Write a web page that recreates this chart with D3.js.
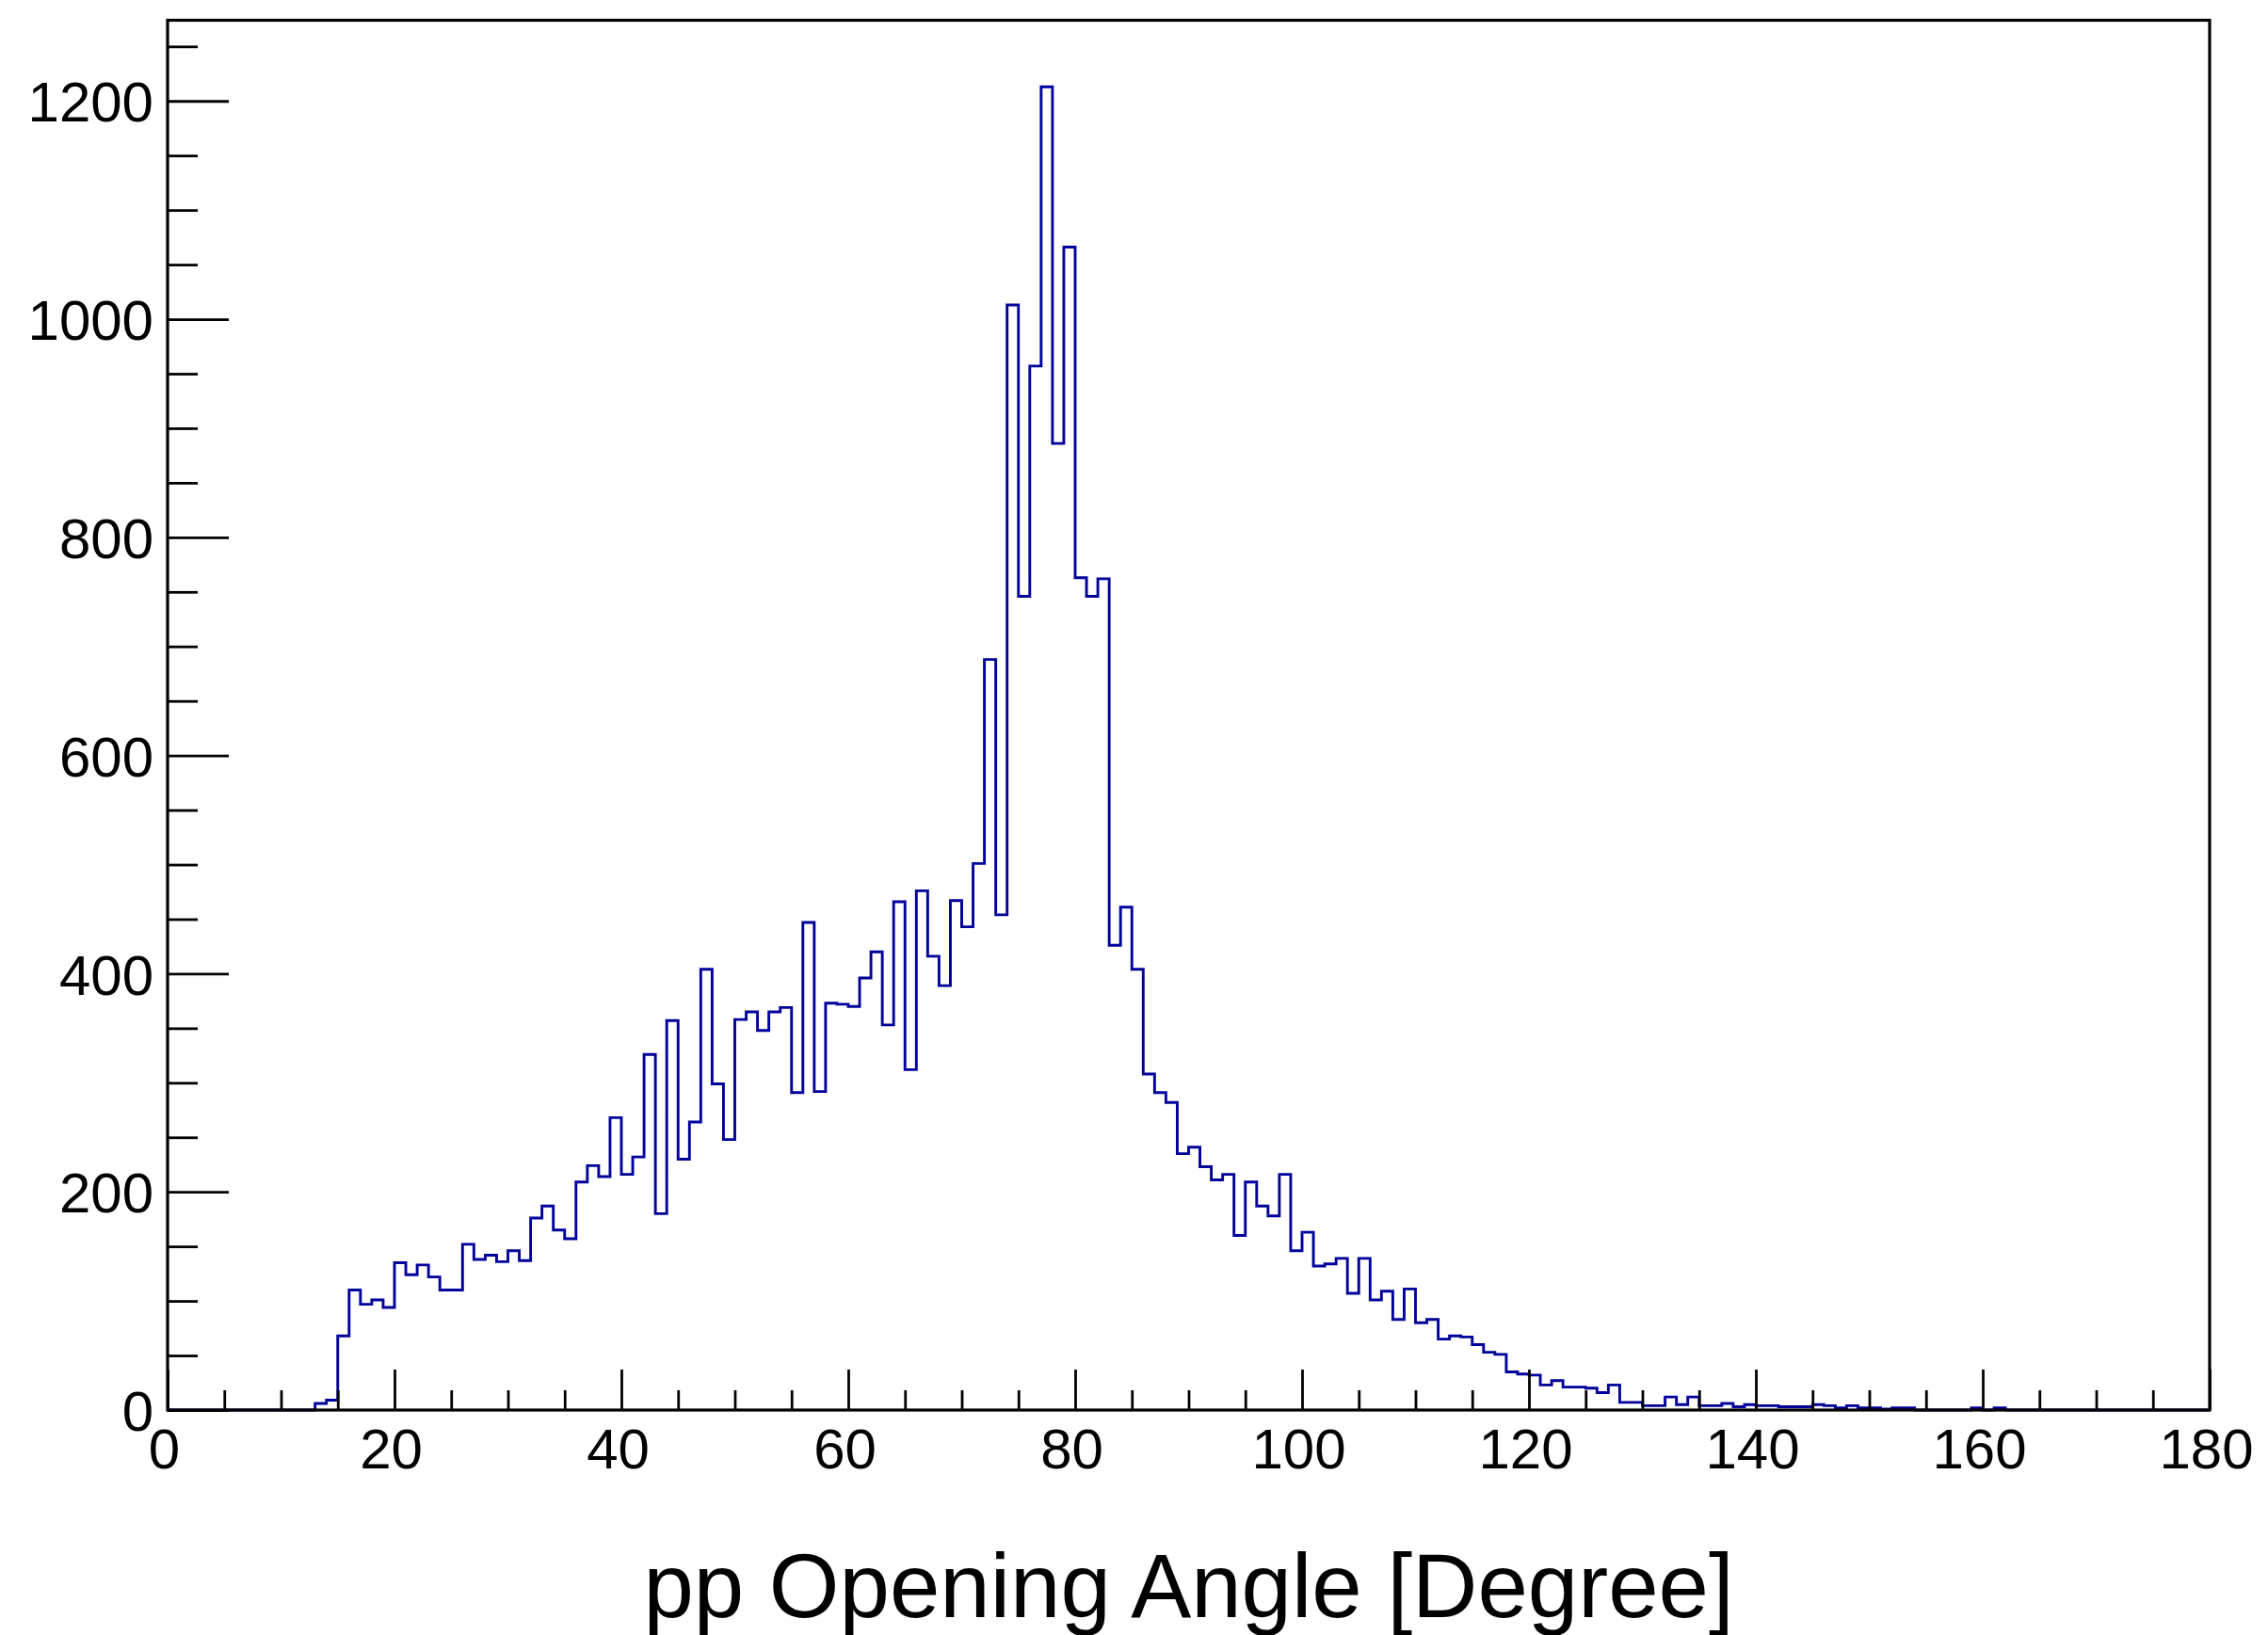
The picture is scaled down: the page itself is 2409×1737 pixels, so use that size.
<!DOCTYPE html>
<html>
<head>
<meta charset="utf-8">
<script src="https://cdn.jsdelivr.net/npm/d3@7"></script>
<style>
  body { margin: 0; background: #fff; }
  svg { display: block; font-family: "Liberation Sans", Arial, Helvetica, sans-serif; }
</style>
</head>
<body>
<svg id="chart"></svg>
<script>
// pp opening angle histogram, 180 bins of 1 degree
const angleRange = [0, 180];
const binWidth = 1;
const counts = [
  0, 0, 0, 0, 0, 0, 0, 0, 0, 0,
  0, 0, 0, 6, 9, 68, 110, 97, 101, 94,
  135, 124, 133, 122, 110, 110, 152, 138, 142, 136,
  146, 137, 176, 187, 165, 157, 209, 224, 214, 268,
  216, 232, 326, 180, 357, 230, 264, 404, 299, 248,
  358, 365, 348, 365, 369, 291, 447, 292, 373, 372,
  370, 396, 420, 353, 466, 312, 476, 416, 389, 467,
  443, 501, 688, 454, 1013, 746, 957, 1213, 886, 1066,
  763, 746, 762, 426, 461, 404, 308, 291, 282, 235,
  241, 223, 211, 216, 160, 209, 187, 178, 216, 146,
  163, 132, 134, 139, 107, 139, 101, 109, 83, 111,
  80, 83, 65, 68, 67, 60, 53, 51, 35, 33,
  32, 23, 27, 21, 21, 20, 16, 23, 7, 7,
  4, 4, 12, 5, 12, 4, 4, 6, 3, 5,
  4, 4, 3, 3, 3, 5, 4, 2, 4, 2,
  2, 1, 2, 2, 0, 0, 0, 0, 0, 2,
  0, 2, 0, 0, 0, 0, 0, 0, 0, 0,
  0, 0, 0, 0, 0, 0, 0, 0, 0, 0
];
const yMax = 1274;

const xMajorTicks = [0, 20, 40, 60, 80, 100, 120, 140, 160, 180];
const yMajorTicks = [0, 200, 400, 600, 800, 1000, 1200];
const xTitle = 'pp Opening Angle [Degree]';

const WIDTH = 2409, HEIGHT = 1737;
const FRAME = { LEFT: 178, RIGHT: 2347, TOP: 21.5, BOTTOM: 1498 };
const LINE_COLOR = '#00009a';

const svg = d3.select('#chart').attr('width', WIDTH).attr('height', HEIGHT);
svg.append('rect').attr('width', WIDTH).attr('height', HEIGHT).attr('fill', '#fff');

const x = d3.scaleLinear(angleRange, [FRAME.LEFT, FRAME.RIGHT]);
const y = d3.scaleLinear([0, yMax], [FRAME.BOTTOM, FRAME.TOP]);

// histogram outline
const steps = counts.map((c, i) => [angleRange[0] + i * binWidth, c]);
steps.push([angleRange[1], counts[counts.length - 1]]);

const line = d3.line()
  .x((d) => x(d[0]))
  .y((d) => y(d[1]))
  .curve(d3.curveStepAfter);

svg.append('path')
  .datum(steps)
  .attr('d', line)
  .attr('fill', 'none')
  .attr('stroke', LINE_COLOR)
  .attr('stroke-width', 2.9);

// minor ticks
const xMinor = d3.range(angleRange[0], angleRange[1] + 1, 5).filter((v) => v % 20 !== 0);
const yMinor = d3.range(0, yMax, 50).filter((v) => v % 200 !== 0);

const styleAxis = (g) => {
  g.select('.domain').remove();
  g.selectAll('.tick line').attr('stroke', '#000').attr('stroke-width', 2.8);
  g.selectAll('.tick text').attr('fill', '#000').attr('font-size', 60).attr('font-family', null);
};

svg.append('g')
  .attr('transform', `translate(0, ${FRAME.BOTTOM})`)
  .call(d3.axisBottom(x).tickValues(xMinor).tickSize(-21).tickFormat(''))
  .call(styleAxis);

svg.append('g')
  .attr('transform', `translate(${FRAME.LEFT}, 0)`)
  .call(d3.axisLeft(y).tickValues(yMinor).tickSize(-32).tickFormat(''))
  .call(styleAxis);

// major ticks with labels
svg.append('g')
  .attr('transform', `translate(0, ${FRAME.BOTTOM})`)
  .call(d3.axisBottom(x).tickValues(xMajorTicks).tickSize(-43).tickPadding(19).tickFormat(d3.format('d')))
  .call(styleAxis)
  .call((g) => g.selectAll('.tick text').attr('dx', -4));

svg.append('g')
  .attr('transform', `translate(${FRAME.LEFT}, 0)`)
  .call(d3.axisLeft(y).tickValues(yMajorTicks).tickSize(-65).tickPadding(15).tickFormat(d3.format('d')))
  .call(styleAxis)
  .call((g) => g.selectAll('.tick text').attr('dy', '0.36em'));

// frame
svg.append('rect')
  .attr('x', FRAME.LEFT)
  .attr('y', FRAME.TOP)
  .attr('width', FRAME.RIGHT - FRAME.LEFT)
  .attr('height', FRAME.BOTTOM - FRAME.TOP)
  .attr('fill', 'none')
  .attr('stroke', '#000')
  .attr('stroke-width', 3.2);

// axis title (descenders run to the bottom edge, as in the original)
svg.append('text')
  .attr('x', (FRAME.LEFT + FRAME.RIGHT) / 2)
  .attr('y', 1718)
  .attr('text-anchor', 'middle')
  .attr('font-size', 96)
  .attr('fill', '#000')
  .text(xTitle);
</script>
</body>
</html>
